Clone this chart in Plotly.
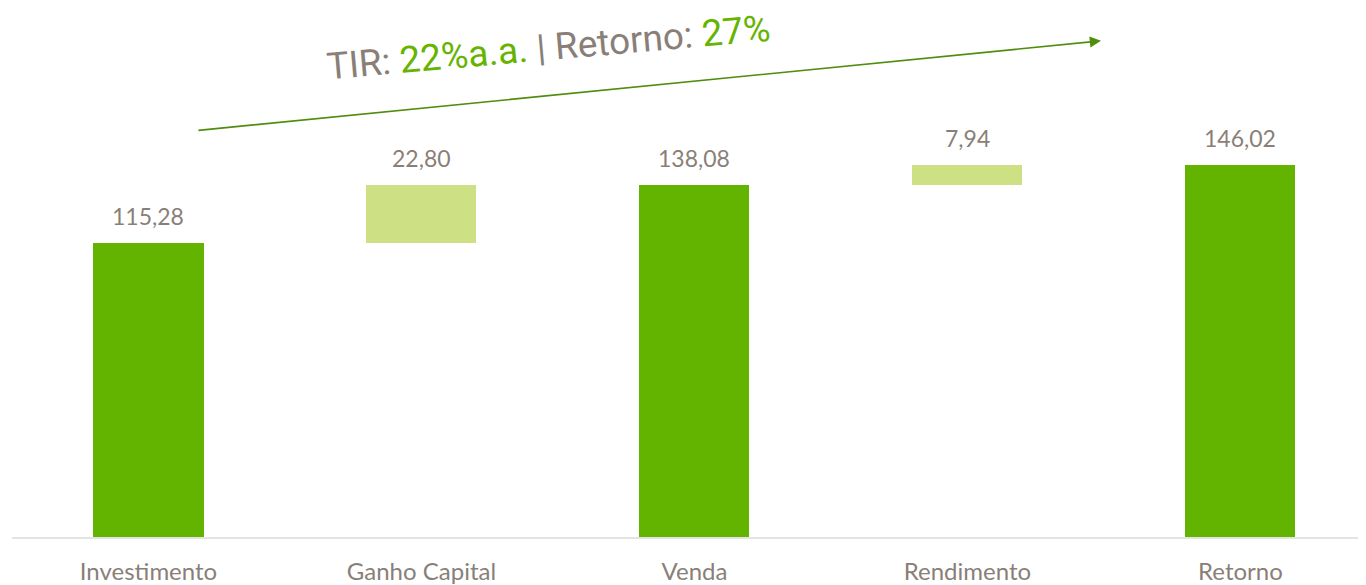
import plotly.graph_objects as go

categories = ["Investimento", "Ganho Capital", "Venda", "Rendimento", "Retorno"]
values = [115.28, 22.80, 138.08, 7.94, 146.02]
bases = [0, 115.28, 0, 138.08, 0]
labels = ["115,28", "22,80", "138,08", "7,94", "146,02"]
colors = ["#63B400", "#CEE084", "#63B400", "#CEE084", "#63B400"]

GREY = "#8A7F78"
FONT = "Lato"

fig = go.Figure()
fig.add_trace(go.Bar(
    x=categories, y=values, base=bases,
    marker=dict(color=colors, line=dict(width=0)),
    width=0.403, hoverinfo="skip",
))

for c, v, b, t in zip(categories, values, bases, labels):
    fig.add_annotation(x=c, y=v + b, text=t, showarrow=False, yanchor="bottom",
                       yshift=11, font=dict(family=FONT, size=23, color=GREY))

# trend arrow
fig.add_annotation(xref="x domain", yref="y domain", x=0.8043, y=0.9379,
                   ax=0.1366, ay=0.7684, axref="x domain", ayref="y domain",
                   showarrow=True, arrowhead=2, arrowsize=1.4, arrowwidth=1.6,
                   arrowcolor="#4F8D0C", text="")
fig.add_annotation(xref="paper", yref="paper", x=0.396, y=0.925,
                   xanchor="center", yanchor="middle",
                   text="TIR: <span style='color:#66B400'>22%a.a.</span> | Retorno: <span style='color:#66B400'>27%</span>",
                   showarrow=False, textangle=-5,
                   font=dict(family="Roboto", size=37, color=GREY))

fig.update_layout(
    width=1358, height=577,
    margin=dict(l=4, r=0, t=0, b=46),
    plot_bgcolor="white", paper_bgcolor="white",
    showlegend=False, bargap=0,
    xaxis=dict(range=[-0.5, 4.46], showgrid=False, zeroline=False,
               showline=True, linecolor="#E4E4E4", linewidth=2,
               tickfont=dict(family=FONT, size=24, color=GREY),
               ticks="", ticklabelstandoff=12, fixedrange=True),
    yaxis=dict(range=[0, 207.45], visible=False, fixedrange=True),
)

fig.write_html("out.html")
